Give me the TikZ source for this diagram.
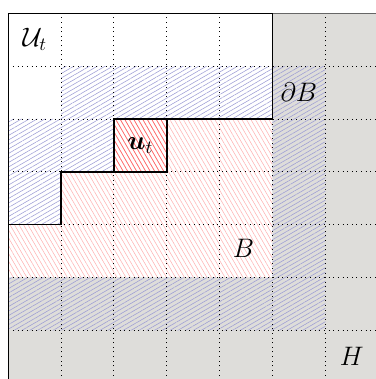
\documentclass[tikz,border=0pt]{standalone}
\usepackage{amsmath}
\usepackage{amssymb}
\usepackage{bm}
\usetikzlibrary{patterns.meta}

\definecolor{hgray}{RGB}{222,221,218}

\begin{document}
\begin{tikzpicture}[
  halfplane/.style={fill=hgray},
  bdryhatch/.style={pattern={Lines[angle=30,distance=2.1pt,line width=0.3pt]},pattern color=blue!40!gray!55},
  ballhatch/.style={pattern={Lines[angle=-60,distance=2.1pt,line width=0.3pt]},pattern color=red!30},
  uthatch/.style={pattern={Lines[angle=-60,distance=2.1pt,line width=0.35pt]},pattern color=red!60},
  latticeline/.style={dotted,line width=0.5pt},
  outline/.style={thick,black},
  tag/.style={inner sep=1pt,font=\Large},
]

\useasboundingbox (-0.157,0.078) rectangle (6.96,7.252);
\clip (-0.157,0.078) rectangle (6.96,7.252);

% === H: grey half-plane outside the white block ===
\fill[halfplane] (0,-1) -- (8,-1) -- (8,7) -- (5,7) -- (5,2) -- (0,2) -- cycle;

% === boundary layer dB ===
\fill[bdryhatch] (1,6) -- (6,6) -- (6,1) -- (0,1) -- (0,2) -- (5,2) -- (5,5) -- (2,5) -- (2,4)
  -- (1,4) -- (1,3) -- (0,3) -- (0,5) -- (1,5) -- cycle;

% === B and the cell u_t ===
\fill[ballhatch] (0,2) -- (5,2) -- (5,5) -- (2,5) -- (2,4) -- (1,4) -- (1,3) -- (0,3) -- cycle;
\fill[uthatch] (2,4) rectangle (3,5);

% === lattice ===
\draw[latticeline] (0,-1) grid (8,7);

% === outlines ===
\draw[black!60,semithick] (5,7) -- (8,7);
\draw[outline] (0,-1) -- (0,3);
\draw[outline] (0,3) -- (0,7) -- (5,7) -- (5,5) -- (2,5) -- (2,4) -- (1,4) -- (1,3) -- cycle;
\draw[outline] (2,4) rectangle (3,5);

% === labels ===
\node[tag] (Ulab) at (0.5,6.5) {$\mathcal{U}_t$};
\node[tag] (ulab) at (2.5,4.5) {$\bm{u}_t$};
\node[tag] (dBlab) at (5.5,5.5) {$\partial B$};
\node[tag] (Blab) at (4.45,2.55) {$B$};
\node[tag] (Hlab) at (6.5,0.5) {$H$};

\end{tikzpicture}
\end{document}
